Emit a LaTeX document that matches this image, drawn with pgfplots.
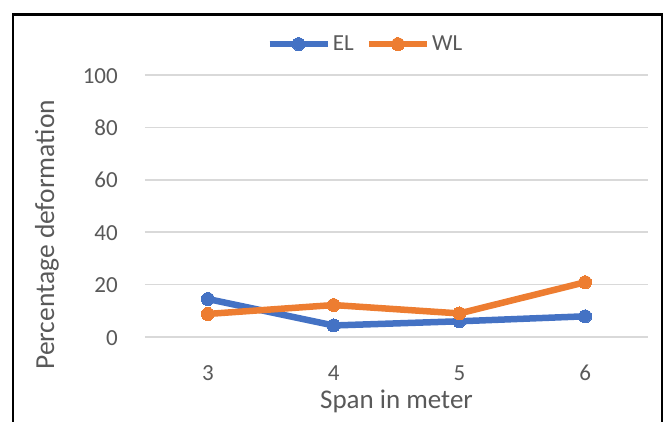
\documentclass[border=0pt]{standalone}
\usepackage{pgfplots}
\pgfplotsset{compat=1.18}
\usepackage{fontspec}
\setmainfont{Carlito}
\definecolor{elblue}{HTML}{4472C4}
\definecolor{wlorange}{HTML}{ED7D31}
\definecolor{gridgray}{HTML}{D9D9D9}
\definecolor{txtgray}{HTML}{595959}

\begin{document}
\begin{tikzpicture}[x=1pt,y=1pt]
\useasboundingbox (0,0) rectangle (664,-421);
% chart frame (open at the bottom edge)
\draw[line width=2.5pt] (13,-430) -- (13,-14.5) -- (662,-14.5) -- (662,-430);
\begin{axis}[
  at={(145pt,-337pt)}, anchor=south west,
  scale only axis, width=503pt, height=262pt,
  xmin=2.5, xmax=6.5, ymin=0, ymax=100,
  xtick={3,4,5,6}, ytick={0,20,40,60,80,100},
  /pgf/number format/assume math mode=true,
  axis line style={draw=none}, major tick length=0pt,
  ymajorgrids, grid style={gridgray, line width=1.5pt},
  clip=false,
  ticklabel style={font=\fontsize{23}{23}\selectfont, text=txtgray},
  yticklabel style={anchor=base east, inner sep=0pt, xshift=-27pt, yshift=-8pt},
  xticklabel style={anchor=base, inner sep=0pt, yshift=-43pt},
  xlabel={Span in meter},
  xlabel style={font=\fontsize{27}{27}\selectfont, text=txtgray, at={(0.5,0)}, anchor=base, inner sep=0pt, yshift=-71pt},
  ylabel={Percentage deformation},
  every axis y label/.style={at={(-0.1948,0.39)}, anchor=center, rotate=90, inner sep=0pt,
    font=\fontsize{27.5}{27.5}\selectfont, text=txtgray},
  legend columns=2,
  legend style={at={(0.438,1.118)}, anchor=center, draw=none, fill=none,
    font=\fontsize{23}{23}\selectfont, text=txtgray,
    /tikz/every even column/.append style={column sep=10pt},
    inner sep=0pt},
  legend image code/.code={%
    \draw[mark repeat=2, mark phase=2, line width=6.5pt, #1] plot coordinates {(0pt,0pt) (29pt,0pt) (58pt,0pt)};},
  every axis plot/.append style={line width=6.5pt, mark=*, mark size=6.5pt},
]
\addplot[color=elblue, mark options={fill=elblue, draw=elblue, line width=0pt}]
  coordinates {(3,14.5) (4,4.4) (5,6.0) (6,7.9)};
\addlegendentry{EL}
\addplot[color=wlorange, mark options={fill=wlorange, draw=wlorange, line width=0pt}]
  coordinates {(3,8.8) (4,12.2) (5,9.0) (6,20.9)};
\addlegendentry{WL}
\end{axis}
\end{tikzpicture}
\end{document}
